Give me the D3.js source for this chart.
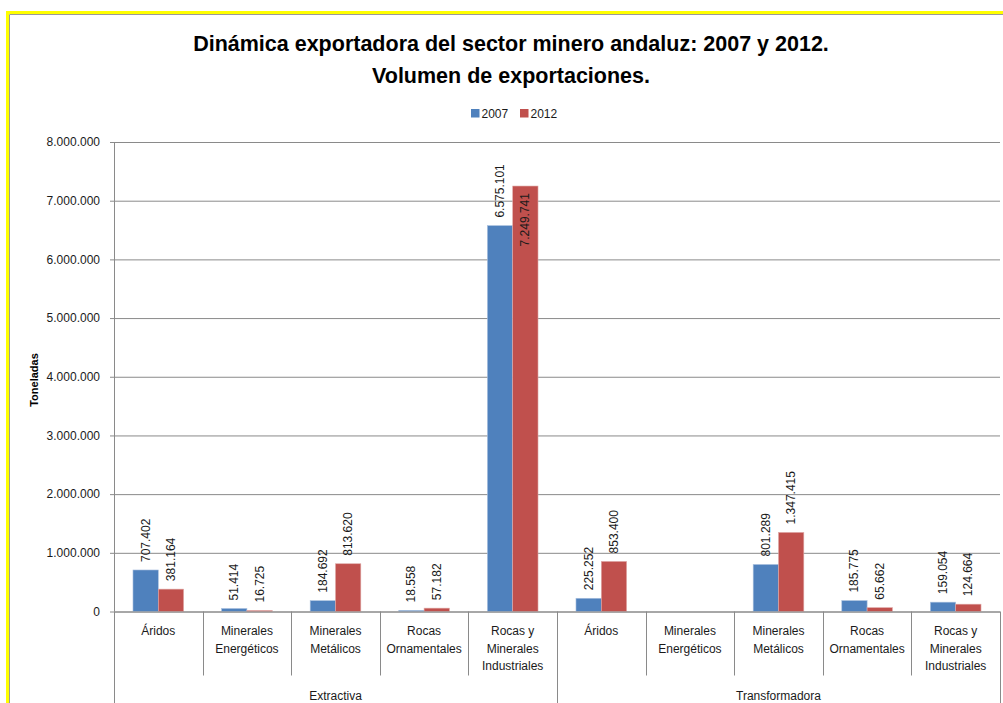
<!DOCTYPE html>
<html>
<head>
<meta charset="utf-8">
<script src="https://cdn.jsdelivr.net/npm/d3@7"></script>
<style>
  body { margin: 0; background: #fff; overflow: hidden; }
  svg { display: block; }
  text { font-family: "Liberation Sans", Arial, sans-serif; fill: #1a1a1a; }
</style>
</head>
<body>
<script>
var groups = ['Extractiva', 'Transformadora'];
var categories = ['Áridos', 'Minerales Energéticos', 'Minerales Metálicos', 'Rocas Ornamentales', 'Rocas y Minerales Industriales'];
var categoryLines = [['Áridos'], ['Minerales', 'Energéticos'], ['Minerales', 'Metálicos'], ['Rocas', 'Ornamentales'], ['Rocas y', 'Minerales', 'Industriales']];
var series = ['2007', '2012'];
var values2007 = [707402, 51414, 184692, 18558, 6575101, 225252, null, 801289, 185775, 159054];
var values2012 = [381164, 16725, 813620, 57182, 7249741, 853400, null, 1347415, 65662, 124664];
var yTicks = [0, 1000000, 2000000, 3000000, 4000000, 5000000, 6000000, 7000000, 8000000];
var colors = ['#4F81BD', '#C0504D'];

var width = 1003;
var height = 703;

var margin = { top: 142, left: 114, right: 3, bottom: 91.5 };
var innerWidth = width - margin.left - margin.right;
var innerHeight = height - margin.top - margin.bottom;

var fmt = d3.formatLocale({ decimal: ',', thousands: '.', grouping: [3], currency: ['', ''] }).format(',d');

// flatten categories x groups
var rows = [];
groups.forEach(function (g, gi) {
    categories.forEach(function (c, ci) {
        var i = gi * categories.length + ci;
        rows.push({ key: i, group: g, lines: categoryLines[ci], v: [values2007[i], values2012[i]] });
    });
});

var svg = d3.select('body').append('svg')
    .attr('width', width)
    .attr('height', height);

// frame (only top and left edges are visible in the picture)
svg.append('path')
    .attr('d', 'M7.5,' + height + 'V12.5H' + width)
    .attr('fill', 'none').attr('stroke', '#ffff00').attr('stroke-width', 3);
svg.append('path')
    .attr('d', 'M9.5,' + height + 'V14.5H' + width)
    .attr('fill', 'none').attr('stroke', '#9a9a9a').attr('stroke-width', 1);

// title
svg.append('text')
    .attr('x', 511).attr('y', 51)
    .attr('text-anchor', 'middle')
    .style('font-size', '21.5px').style('font-weight', 'bold').style('fill', '#000')
    .text('Dinámica exportadora del sector minero andaluz: 2007 y 2012.');
svg.append('text')
    .attr('x', 511).attr('y', 83)
    .attr('text-anchor', 'middle')
    .style('font-size', '21.5px').style('font-weight', 'bold').style('fill', '#000')
    .text('Volumen de exportaciones.');

// legend
var legend = svg.append('g').attr('transform', 'translate(471,109)');
var lx = [0, 49];
series.forEach(function (s, i) {
    legend.append('rect')
        .attr('x', lx[i]).attr('y', 0)
        .attr('width', 8.5).attr('height', 8.5)
        .attr('fill', colors[i]);
    legend.append('text')
        .attr('x', lx[i] + 10.5).attr('y', 8.7)
        .style('font-size', '12px')
        .text(s);
});

var g = svg.append('g')
    .attr('transform', 'translate(' + margin.left + ',' + margin.top + ')');

var y = d3.scaleLinear()
    .domain([0, 8000000])
    .range([innerHeight, 0]);

var x = d3.scaleBand()
    .domain(rows.map(function (d) { return d.key; }))
    .range([0, innerWidth])
    .padding(0);

var xs = d3.scaleBand()
    .domain(series)
    .range([0, x.bandwidth()])
    .paddingInner(0)
    .paddingOuter(0.75);

// gridlines
var grid = g.append('g')
    .call(d3.axisLeft(y).tickValues(yTicks).tickSize(-innerWidth).tickFormat(''));
grid.select('.domain').remove();
grid.selectAll('.tick line').attr('stroke', '#8a8a8a');

// y axis
var yaxis = g.append('g')
    .call(d3.axisLeft(y).tickValues(yTicks).tickSize(4).tickPadding(10).tickFormat(fmt));
yaxis.select('.domain').attr('stroke', '#8a8a8a').attr('d', 'M0.5,' + innerHeight + 'V0');
yaxis.selectAll('.tick line').attr('stroke', '#8a8a8a');
yaxis.selectAll('.tick text')
    .style('font-size', '12px')
    .style('font-family', '"Liberation Sans", Arial, sans-serif')
    .attr('fill', '#1a1a1a');

svg.append('text')
    .attr('transform', 'translate(38,380) rotate(-90)')
    .attr('text-anchor', 'middle')
    .style('font-size', '11px').style('font-weight', 'bold').style('fill', '#000')
    .text('Toneladas');

// bars
var barData = [];
rows.forEach(function (r) {
    series.forEach(function (s, si) {
        if (r.v[si] != null) barData.push({ key: r.key, s: s, si: si, v: r.v[si] });
    });
});

g.selectAll('rect.bar')
    .data(barData)
    .join('rect')
    .attr('class', 'bar')
    .attr('x', function (d) { return x(d.key) + xs(d.s); })
    .attr('y', function (d) { return y(d.v); })
    .attr('width', xs.bandwidth())
    .attr('height', function (d) { return innerHeight - y(d.v); })
    .attr('fill', function (d) { return colors[d.si]; })
    .attr('stroke', function (d) { return d.si === 0 ? '#a9c0de' : '#dfa9a7'; })
    .attr('stroke-width', 0.6);

// data labels
var labels = g.selectAll('text.lbl')
    .data(barData)
    .join('text')
    .attr('class', 'lbl')
    .attr('dominant-baseline', 'central')
    .style('font-size', '12px')
    .text(function (d) { return fmt(d.v); });

labels.each(function (d) {
    var len = this.getComputedTextLength();
    var cx = x(d.key) + xs(d.s) + xs.bandwidth() / 2;
    var top = y(d.v);
    var start = top - 8;
    if (start - len < 0) start = top + 7 + len; // inside end
    d3.select(this)
        .attr('transform', 'translate(' + cx + ',' + start + ') rotate(-90)');
});

// x axis line
g.append('line')
    .attr('x1', 0).attr('x2', innerWidth)
    .attr('y1', innerHeight + 0.5).attr('y2', innerHeight + 0.5)
    .attr('stroke', '#8a8a8a');

// category separators
var bounds = d3.range(rows.length + 1);
g.selectAll('line.sep')
    .data(bounds)
    .join('line')
    .attr('class', 'sep')
    .attr('x1', function (i) { return Math.round(i * x.step()) + 0.5; })
    .attr('x2', function (i) { return Math.round(i * x.step()) + 0.5; })
    .attr('y1', innerHeight)
    .attr('y2', function (i) { return i % categories.length === 0 ? margin.bottom : innerHeight + 64; })
    .attr('y2', function (i) { return i % categories.length === 0 ? innerHeight + margin.bottom : innerHeight + 64; })
    .attr('stroke', '#8a8a8a');

// category labels
var catLabel = g.selectAll('text.cat')
    .data(rows)
    .join('text')
    .attr('class', 'cat')
    .attr('text-anchor', 'middle')
    .attr('x', function (d) { return x(d.key) + x.bandwidth() / 2; })
    .attr('y', innerHeight + 23.5)
    .style('font-size', '12px');

catLabel.selectAll('tspan')
    .data(function (d) { return d.lines; })
    .join('tspan')
    .attr('x', function () { return d3.select(this.parentNode).attr('x'); })
    .attr('dy', function (d, i) { return i === 0 ? 0 : 17.5; })
    .text(function (d) { return d; });

// group labels
g.selectAll('text.grp')
    .data(groups)
    .join('text')
    .attr('class', 'grp')
    .attr('text-anchor', 'middle')
    .attr('x', function (d, i) { return (i + 0.5) * categories.length * x.step(); })
    .attr('y', innerHeight + 88)
    .style('font-size', '12px')
    .text(function (d) { return d; });
</script>
</body>
</html>
